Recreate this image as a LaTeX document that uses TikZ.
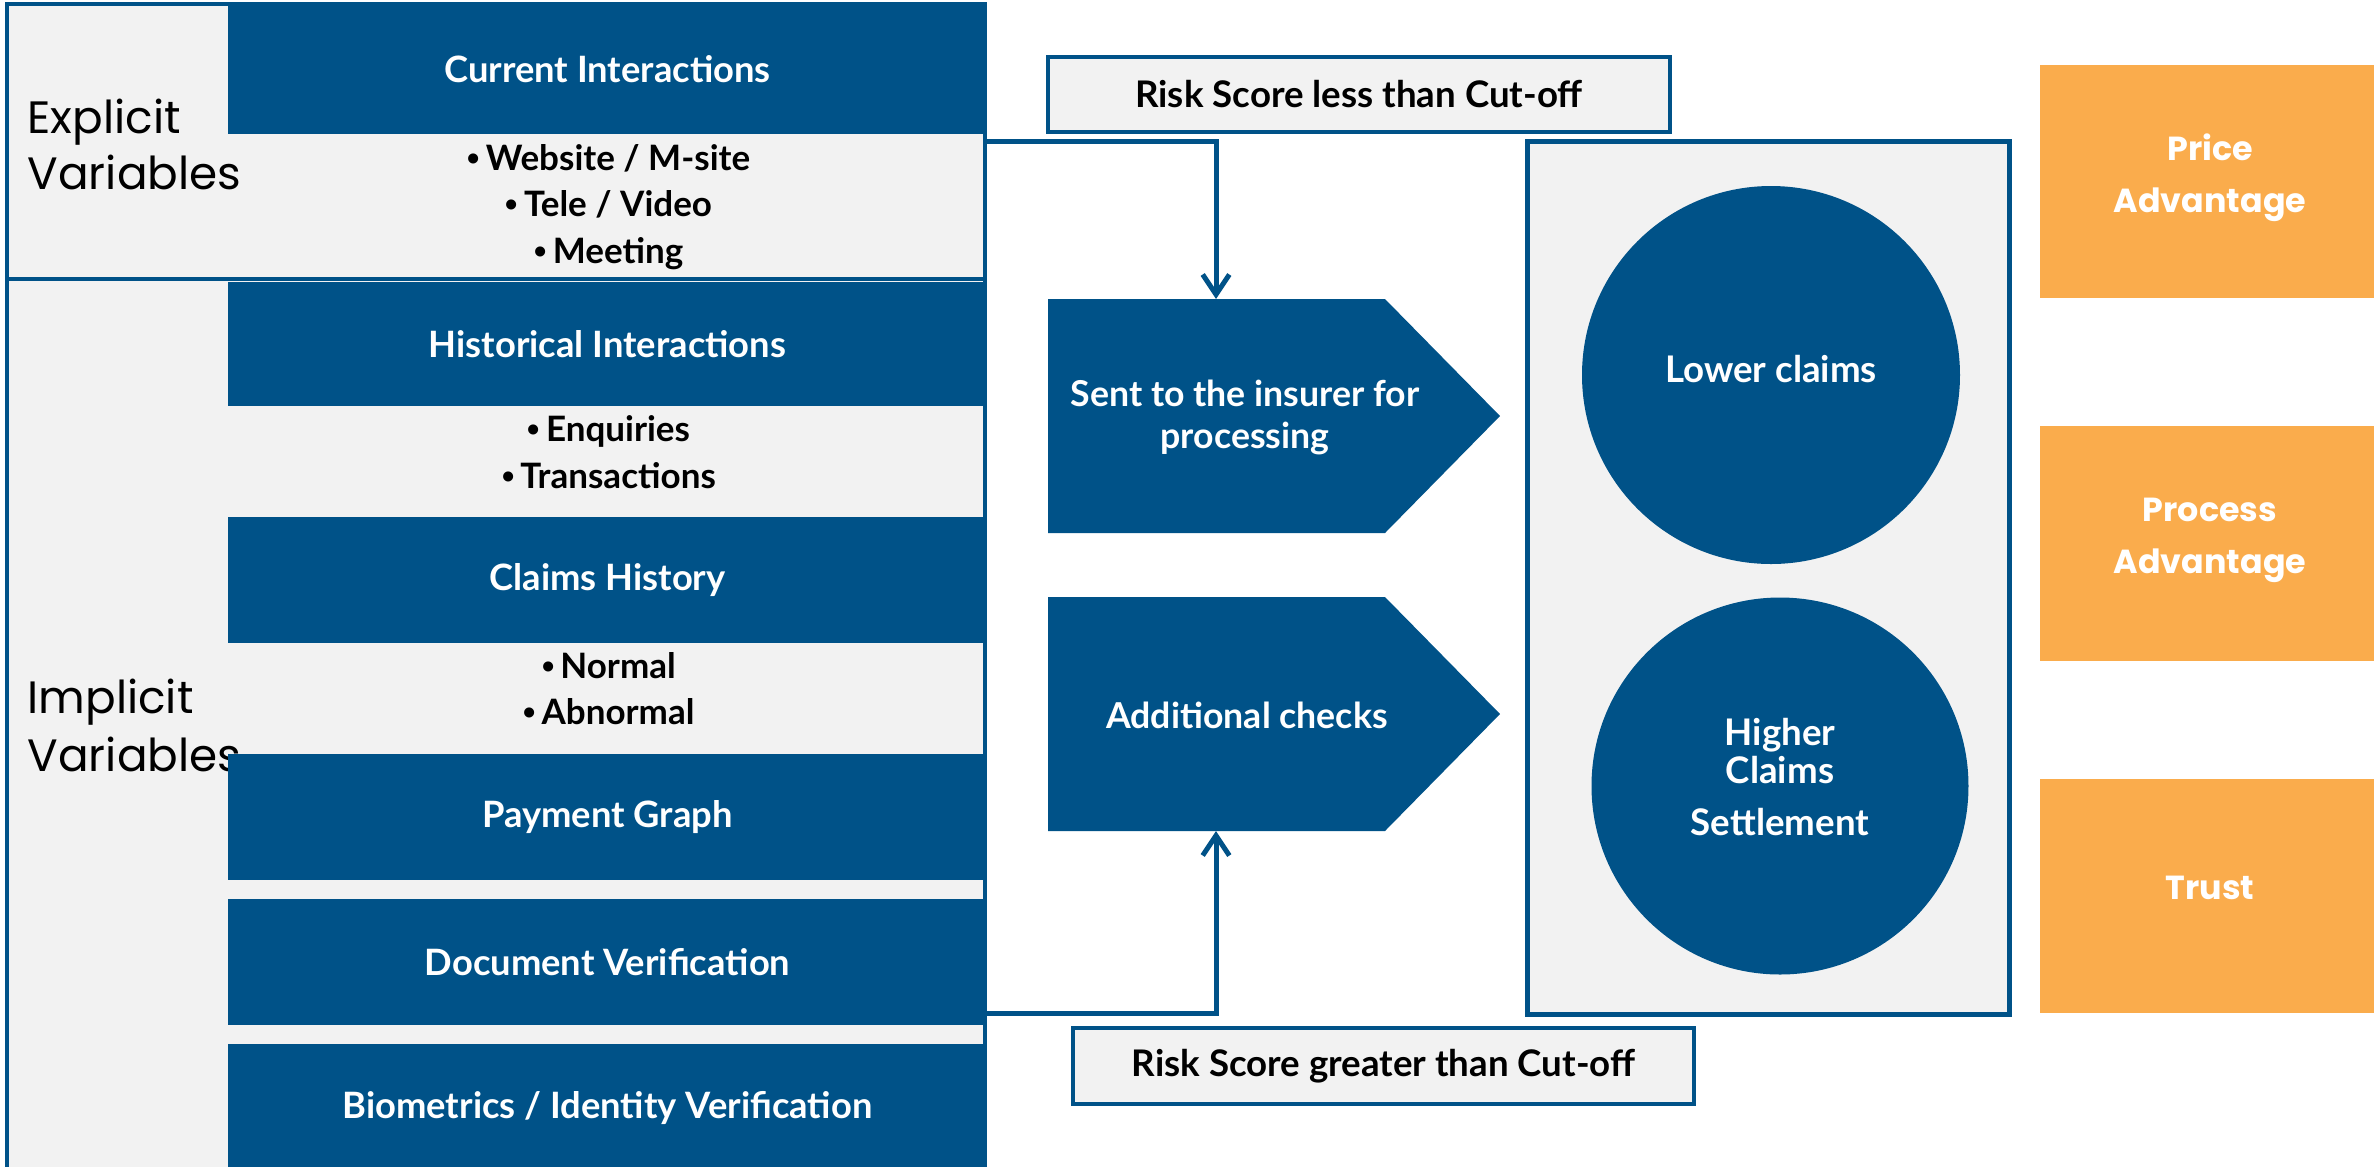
\documentclass[tikz,border=0pt]{standalone}
\usepackage{fontspec}
\setmainfont{Lato}
\newfontfamily\popfont{Poppins}
\newfontfamily\libfont{Liberation Sans}
\newcommand\bul{{\libfont •}\,}
\usetikzlibrary{arrows.meta}
\definecolor{dblue}{RGB}{0,82,136}
\definecolor{lgray}{RGB}{242,242,242}
\definecolor{orng}{RGB}{250,172,76}
\begin{document}
\begin{tikzpicture}[x=0.3pt,y=-0.3pt,
  grouppanel/.style={draw=dblue, line width=1.1pt, fill=lgray, inner sep=0, minimum width=293.4pt},
  bigtext/.style={anchor=base west, inner sep=0, font=\popfont\fontsize{13.6}{17}\selectfont},
  darkbox/.style={fill=dblue, inner sep=0, minimum width=227.7pt, text=white, font=\bfseries\fontsize{10.9}{12}\selectfont},
  bullets/.style={align=center, inner sep=0, font=\bfseries\fontsize{10.5}{14}\selectfont},
  riskbox/.style={draw=dblue, line width=1.3pt, fill=lgray, inner sep=0, font=\bfseries\fontsize{11}{12}\selectfont},
  arrowshape/.style={fill=dblue},
  arrowtext/.style={align=center, text=white, inner sep=0, font=\bfseries\fontsize{10.7}{12.6}\selectfont},
  outpanel/.style={draw=dblue, line width=1.5pt, fill=lgray, inner sep=0},
  result/.style={circle, fill=dblue, inner sep=0, text=white, align=center, font=\bfseries\fontsize{11}{11.4}\selectfont},
  benefit/.style={fill=orng, inner sep=0, minimum width=102pt, text=white, align=center, text depth=4.8pt, font=\popfont\bfseries\fontsize{10}{15.6}\selectfont},
  conn/.style={draw=dblue, line width=1.5pt, -{Straight Barb[length=6pt,width=8pt]}}
]
\useasboundingbox (0,0) rectangle (2374,1166);

% left panels
\node[grouppanel, minimum height=82.5pt] (expl) at (496,141.5) {};
\node[grouppanel, minimum height=268.8pt] (impl) at (496,727) {};

\node[bigtext] (evA) at (27,133) {Explicit};
\node[bigtext] (evB) at (27,189) {Variables};
\node[bigtext] (ivA) at (27,713) {Implicit};
\node[bigtext] (ivB) at (27,771) {Variables};

\node[darkbox, minimum height=39pt] (ci) at (607.5,69) {Current Interactions};
\node[bullets] (b1) at (609,207) {\bul Website / M-site\\\bul Tele / Video\\\bul Meeting};
\node[darkbox, minimum height=37.2pt] (hi) at (607.5,344) {Historical Interactions};
\node[bullets] (b2) at (609,452) {\bul Enquiries\\\bul Transactions};
\node[darkbox, minimum height=37.8pt] (ch) at (607.5,580) {Claims History};
\node[bullets] (b3) at (609,688.5) {\bul Normal\\\bul Abnormal};
\node[darkbox, minimum height=37.8pt] (pg) at (607.5,817) {Payment Graph};
\node[darkbox, minimum height=37.8pt] (dv) at (607.5,962) {Document Verification};
\node[darkbox, minimum height=38.4pt] (bio) at (607.5,1108) {Biometrics / Identity Verification};

% risk labels
\node[riskbox, minimum width=186.6pt, minimum height=22.5pt] (rlow) at (1359,94.5) {Risk Score less than Cut-off};
\node[riskbox, minimum width=186.3pt, minimum height=22.8pt] (rhigh) at (1383.5,1066) {Risk Score greater than Cut-off};

% pentagon arrows
\fill[arrowshape] (1048,299) -- (1385,299) -- (1500,416) -- (1385,533) -- (1048,533) -- cycle;
\node[arrowtext] (sentText) at (1245,417) {Sent to the insurer for\\processing};
\fill[arrowshape] (1048,597) -- (1385,597) -- (1500,714) -- (1385,831) -- (1048,831) -- cycle;
\node[arrowtext] (addText) at (1247,715) {Additional checks};

\coordinate (sentTop) at (1216,299);
\coordinate (addBot) at (1216,831);
\coordinate (highStart) at (987,1013);

\draw[conn] (expl.east) -| (sentTop);
\draw[conn] (highStart) -| (addBot);

% outcomes
\node[outpanel, minimum width=144.6pt, minimum height=261.9pt] (panel) at (1768,577.5) {};
\node[result, minimum size=113.4pt, text depth=3.6pt] (lowc) at (1771,375) {Lower claims};
\node[result, minimum size=113.1pt, text depth=5.4pt] (highc) at (1780,786) {Higher\\Claims\\[4.2pt]Settlement};

% benefits
\node[benefit, minimum height=69.9pt] (o1) at (2210,181.5) {Price\\Advantage};
\node[benefit, minimum height=70.5pt] (o2) at (2210,543.5) {Process\\Advantage};
\node[benefit, minimum height=70.2pt] (o3) at (2210,896) {Trust};
\end{tikzpicture}
\end{document}
